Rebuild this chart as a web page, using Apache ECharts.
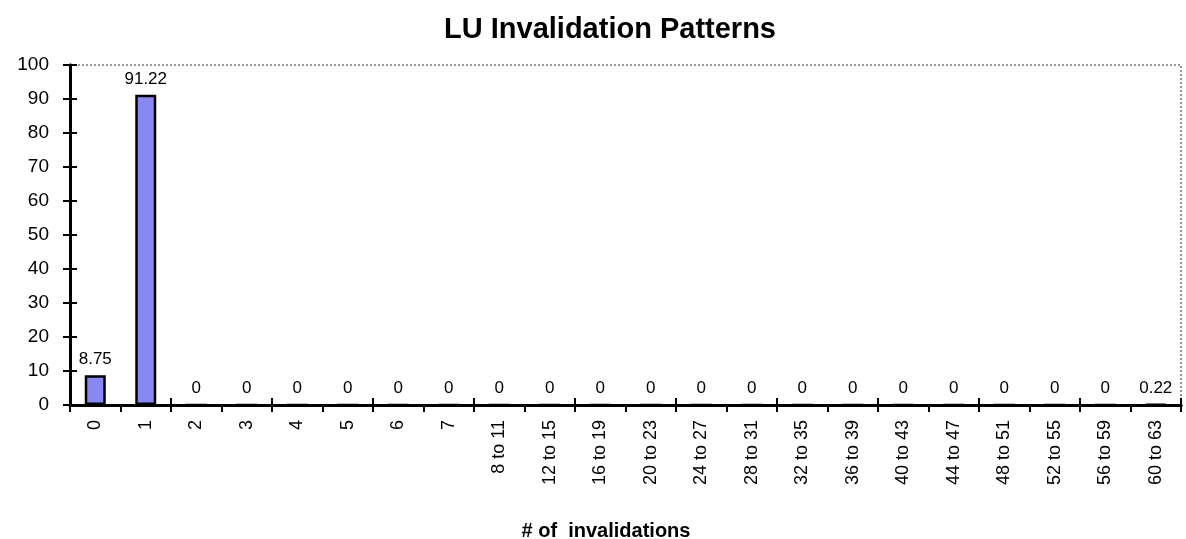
<!DOCTYPE html>
<html>
<head>
<meta charset="utf-8">
<script src="https://cdn.jsdelivr.net/npm/echarts@6/dist/echarts.min.js"></script>
<style>
  html, body { margin: 0; padding: 0; background: #fff; }
  #chart { width: 1186px; height: 539px; }
</style>
</head>
<body>
<div id="chart"></div>
<script>
const categories = ['0', '1', '2', '3', '4', '5', '6', '7', '8 to 11', '12 to 15', '16 to 19',
  '20 to 23', '24 to 27', '28 to 31', '32 to 35', '36 to 39', '40 to 43', '44 to 47',
  '48 to 51', '52 to 55', '56 to 59', '60 to 63'];
const percents = [8.75, 91.22, 0, 0, 0, 0, 0, 0, 0, 0, 0, 0, 0, 0, 0, 0, 0, 0, 0, 0, 0, 0.22];
const yTicks = { min: 0, max: 100, interval: 10 };

const font = 'Liberation Sans, Arial, sans-serif';
const chart = echarts.init(document.getElementById('chart'));

// second axis of each kind only draws the inner half of the crossing ticks
const tickStyle = { color: '#000', width: 2 };
const baseX = {
  type: 'category',
  data: categories,
  boundaryGap: true,
  axisLine: { lineStyle: { color: '#000', width: 3 } },
  axisTick: { show: true, length: 7, lineStyle: tickStyle },
  splitLine: { show: false }
};
const baseY = {
  type: 'value',
  min: yTicks.min,
  max: yTicks.max,
  interval: yTicks.interval,
  axisLine: { show: true, lineStyle: { color: '#000', width: 3 } },
  axisTick: { show: true, length: 7, lineStyle: tickStyle },
  splitLine: { show: false }
};

chart.setOption({
  animation: false,
  title: [
    {
      text: 'LU Invalidation Patterns',
      left: 605, top: 10, textAlign: 'center',
      textStyle: { fontFamily: font, fontSize: 29, fontWeight: 'bold', color: '#000' }
    },
    {
      text: '# of  invalidations',
      left: 601, top: 516, textAlign: 'center',
      textStyle: { fontFamily: font, fontSize: 20, fontWeight: 'bold', color: '#000' }
    }
  ],
  grid: {
    left: 70, right: 5, top: 65, bottom: 134,
    show: true, borderColor: '#999', borderWidth: 2, borderType: 'dotted'
  },
  xAxis: [
    Object.assign({}, baseX, {
      axisLabel: {
        rotate: 90, interval: 0, margin: 15,
        fontFamily: font, fontSize: 18, color: '#000'
      }
    }),
    Object.assign({}, baseX, {
      position: 'bottom',
      axisTick: { show: true, inside: true, length: 7, lineStyle: tickStyle },
      axisLabel: { show: false }
    })
  ],
  yAxis: [
    Object.assign({}, baseY, {
      axisLabel: { margin: 21, fontFamily: font, fontSize: 19, color: '#000' }
    }),
    Object.assign({}, baseY, {
      position: 'left',
      axisTick: { show: true, inside: true, length: 7, lineStyle: tickStyle },
      axisLabel: { show: false }
    })
  ],
  series: [
    {
      type: 'bar',
      data: percents,
      barWidth: 21,
      itemStyle: { color: '#8888f0', borderColor: '#000', borderWidth: 2.5 },
      label: {
        show: true, position: 'top', distance: 7,
        fontFamily: font, fontSize: 17, color: '#000'
      }
    }
  ]
});
</script>
</body>
</html>
